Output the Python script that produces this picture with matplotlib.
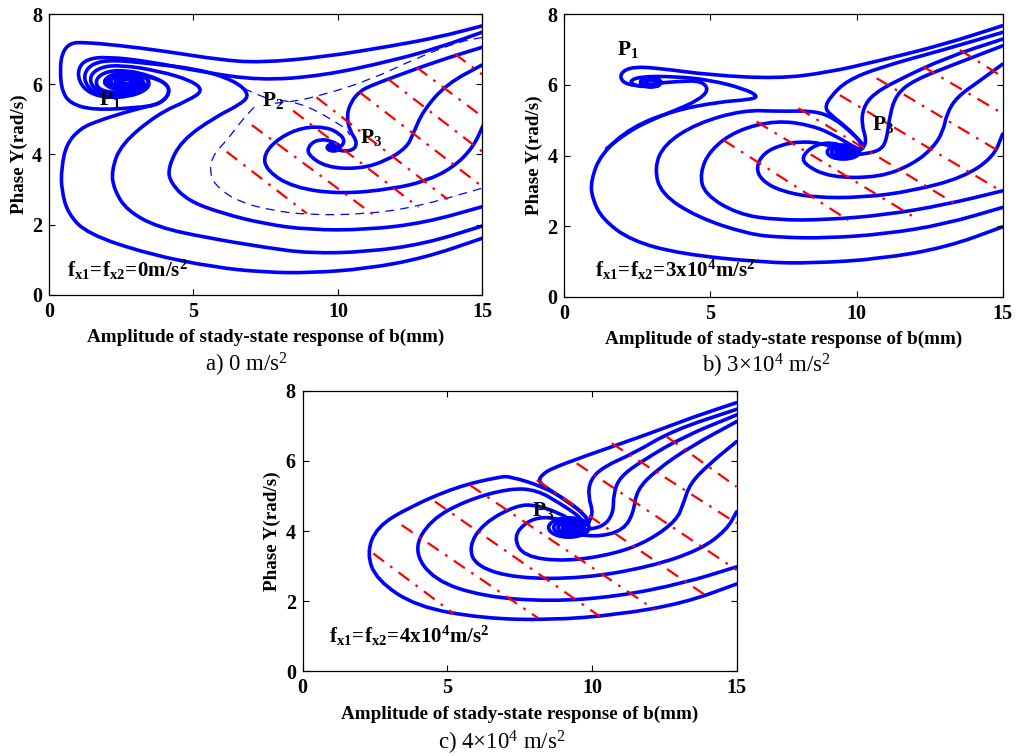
import numpy as np
import matplotlib
matplotlib.use("Agg")
import matplotlib.pyplot as plt
from matplotlib.path import Path
from matplotlib.patches import PathPatch, Ellipse

plt.rcParams["font.family"] = ["Liberation Serif", "DejaVu Serif"]
plt.rcParams["mathtext.fontset"] = "custom"
plt.rcParams["mathtext.rm"] = "Liberation Serif"
plt.rcParams["mathtext.bf"] = "Liberation Serif:bold"
plt.rcParams["mathtext.it"] = "Liberation Serif:italic"

# ---------------- panel a: 0 m/s^2 ----------------
a_top1 = [(15, 7.67), (13.5, 7.35), (11.9, 7.10), (9.5, 6.78), (7.3, 6.62), (5.92, 6.70), (4, 6.95),
          (2.34, 7.12), (1.2, 7.2), (0.73, 7.18), (0.45, 6.9), (0.38, 6.4), (0.45, 5.8), (0.75, 5.45),
          (1.53, 5.27), (3.0, 5.33), (3.84, 5.43), (4.19, 5.75), (4.07, 6.03), (3.49, 6.22), (2.8, 6.3),
          (2.1, 6.25), (1.85, 6.05), (2.2, 5.87), (2.9, 5.85), (3.3, 6.0), (3.0, 6.17), (2.5, 6.15),
          (2.4, 6.02), (2.7, 5.98)]
a_top2 = [(15, 7.49), (13.5, 7.05), (11.9, 6.68), (9.5, 6.25), (7.3, 6.11), (5.2, 6.37), (3.5, 6.65),
          (2.0, 6.79), (1.3, 6.72), (1.0, 6.45), (1.05, 6.05), (1.4, 5.75), (2.0, 5.62), (2.8, 5.65),
          (3.4, 5.85), (3.5, 6.1), (3.1, 6.3), (2.4, 6.35), (1.95, 6.15), (2.1, 5.92), (2.7, 5.9), (3.0, 6.05)]
a_low1 = [(15, 2.51), (13, 2.05), (11, 1.85), (9, 1.85), (7.46, 2.02), (6, 2.32), (4.81, 2.68), (4.2, 3.2),
          (4.12, 3.63), (4.58, 4.39), (5.73, 5.06), (6.65, 5.44), (6.95, 5.72), (6.42, 6.11), (5.16, 6.44),
          (3.43, 6.6), (2.2, 6.7), (1.5, 6.6), (1.2, 6.3), (1.3, 5.95), (1.7, 5.7), (2.5, 5.65), (3.2, 5.8),
          (3.35, 6.05), (2.95, 6.25), (2.3, 6.25), (2.05, 6.05), (2.4, 5.92), (2.85, 5.98)]
a_low2 = [(15, 1.96), (13, 1.45), (11, 1.22), (9, 1.18), (7.46, 1.35), (5.5, 1.62), (3.77, 1.92), (2.7, 2.4),
          (2.25, 3.0), (2.16, 3.54), (2.5, 4.30), (3.77, 5.16), (4.81, 5.54), (5.35, 5.82), (4.93, 6.11),
          (3.77, 6.39), (2.5, 6.55), (1.8, 6.5), (1.4, 6.25), (1.5, 5.9), (2.0, 5.72), (2.8, 5.75),
          (3.2, 5.95), (2.9, 6.18), (2.35, 6.17), (2.25, 6.0), (2.65, 5.95)]
a_low3 = [(15, 1.61), (13, 1.05), (11, 0.74), (9, 0.62), (7.46, 0.64), (5.73, 0.78), (3.43, 1.16),
          (1.35, 1.73), (0.66, 2.30), (0.43, 3.0), (0.43, 3.6), (0.6, 4.3), (1.1, 4.75), (1.70, 4.96),
          (2.62, 5.20), (3.3, 5.35), (3.84, 5.45), (4.19, 5.75), (4.07, 6.03), (3.49, 6.25), (2.7, 6.4),
          (2.0, 6.38), (1.6, 6.15), (1.7, 5.85), (2.3, 5.75), (3.0, 5.85), (3.1, 6.05)]
a_s = [(15, 7.06), (13.5, 6.68), (11.9, 6.2), (11.1, 5.95), (10.76, 5.8), (10.45, 5.5), (10.3, 5.1),
       (10.41, 4.68), (10.65, 4.39), (10.6, 4.16), (10.25, 4.08), (9.95, 4.15)]
a_r = [(15.05, 6.58), (13.76, 6.01), (12.95, 5.25), (12.6, 4.58), (12.38, 4.2), (11.68, 3.82), (10.76, 3.59),
       (9.61, 3.63), (8.92, 4.01), (9.03, 4.30), (9.38, 4.44), (9.8, 4.38), (10.05, 4.25)]
a_c = [(15.05, 4.87), (14.68, 4.2), (13.99, 3.63), (13.07, 3.25), (11.92, 3.02), (10.07, 2.87), (8.45, 3.06),
       (7.53, 3.54), (7.42, 4.01), (7.99, 4.49), (8.80, 4.78), (9.61, 4.78), (10.07, 4.59), (10.24, 4.39),
       (10.1, 4.2), (9.8, 4.12)]
# focus cores: (x centre, y centre, width, height)
a_cores = [(2.69, 6.08, 1.5, 0.5), (2.69, 6.08, 1.1, 0.36), (2.69, 6.08, 0.7, 0.24), (2.69, 6.08, 0.35, 0.12),
           (9.85, 4.2, 0.44, 0.2), (9.85, 4.2, 0.22, 0.1)]
# separatrices through the saddle P2 (thin dashed)
a_sep_upper = [(15, 7.34), (14.2, 7.22), (12.8, 6.78), (11.1, 6.12), (9.4, 5.68), (8.4, 5.5), (7.6, 5.45)]
a_sep_arc = [(7.1, 5.35), (6.7, 5.0), (6.19, 4.44), (5.61, 3.92), (5.58, 3.35), (5.96, 2.97), (6.6, 2.65),
             (7.6, 2.42), (9.0, 2.27), (11.0, 2.3), (12.7, 2.5), (15, 3.04)]
a_sep_p3 = [(8.0, 5.55), (8.6, 5.47), (9.26, 5.25), (9.84, 4.96), (10.3, 4.73), (10.41, 4.55)]
a_sep_p1 = [(7.5, 5.62), (7.0, 5.78), (6.5, 6.0)]
a_red = [((6.15, 4.08), (8.92, 2.32)), ((7.02, 4.84), (11.2, 2.3)), ((8.45, 5.25), (12.8, 2.49)),
         ((9.26, 5.63), (13.8, 2.72)), ((10.76, 5.77), (15, 3.08)), ((11.74, 6.15), (15, 4.08)),
         ((12.72, 6.49), (15, 5.08)), ((14.05, 6.87), (15, 6.28))]

# ---------------- panel b: 3x10^4 m/s^2 ----------------
b_top = [(15, 7.68), (13, 7.15), (10.8, 6.69), (9, 6.35), (7.3, 6.18), (5.0, 6.28), (3.27, 6.47), (2.36, 6.52),
         (1.92, 6.35), (1.96, 6.09), (2.4, 5.97), (3.1, 5.97), (3.35, 6.08), (3.05, 6.2), (2.6, 6.17),
         (2.65, 6.03), (3.05, 6.02)]
b_outer = [(15, 1.98), (13.08, 1.40), (10.8, 1.07), (8.5, 0.95), (6.84, 0.97), (3.99, 1.21), (2.28, 1.59),
           (1.3, 2.2), (0.95, 2.8), (0.91, 3.29), (1.25, 4.04), (2.28, 4.80), (3.76, 5.28), (5.3, 5.52),
           (6.3, 5.58), (6.67, 5.67), (6.13, 5.90), (4.98, 6.14), (3.8, 6.24), (2.6, 6.24), (2.2, 6.1),
           (2.5, 5.95), (3.2, 5.97)]
b_tip = [(3.2, 6.05), (3.9, 6.1), (4.68, 6.12), (4.96, 5.86), (4.55, 5.55), (3.76, 5.27), (2.9, 4.98),
         (2.2, 4.68), (1.45, 4.2)]
b_s1 = [(15, 7.49), (13, 7.0), (10.8, 6.50), (9.66, 6.12), (9.09, 5.65), (8.92, 5.36), (9.09, 5.17),
        (9.66, 4.80), (10.12, 4.42), (10.29, 4.23), (10.0, 4.1), (9.6, 4.1)]
b_s2 = [(15, 7.30), (13.08, 6.78), (11.37, 6.12), (10.57, 5.74), (10.23, 5.36), (10.17, 4.89), (10.35, 4.42),
        (10.2, 4.18), (9.7, 4.08)]
b_s3 = [(15, 7.11), (13.08, 6.50), (11.94, 6.12), (11.37, 5.74), (11.14, 5.17), (11.03, 4.42), (10.8, 4.14),
        (10.23, 4.04), (9.7, 4.0)]
b_r = [(15, 6.59), (14.22, 6.12), (13.42, 5.65), (13.08, 5.17), (12.97, 4.70), (12.63, 4.23), (11.94, 3.76),
       (10.80, 3.38), (9.09, 3.38), (8.18, 3.76), (8.18, 4.04), (8.63, 4.32), (9.2, 4.37), (9.55, 4.25)]
b_c = [(15, 4.61), (14.68, 3.95), (13.65, 3.38), (11.94, 3.0), (10.23, 2.81), (8.52, 2.81), (7.38, 3.0),
       (6.75, 3.3), (6.56, 3.66), (6.81, 4.06), (7.4, 4.3), (8.06, 4.4), (8.8, 4.35), (9.3, 4.2)]
b_d = [(15, 3.0), (13, 2.6), (11, 2.32), (9, 2.18), (7.3, 2.17), (5.93, 2.34), (4.79, 2.91), (4.64, 3.5),
       (4.98, 4.15), (5.9, 4.72), (7.27, 5.0), (8.5, 4.85), (9.3, 4.55), (9.9, 4.25)]
b_e = [(15, 2.53), (13, 2.05), (11, 1.78), (9, 1.66), (7.38, 1.68), (6.27, 1.78), (4.56, 2.25), (3.31, 2.91),
       (3.08, 3.66), (3.42, 4.32), (4.53, 4.91), (6.13, 5.29), (7.38, 5.25), (8.52, 5.27), (9.2, 5.08),
       (9.89, 4.61), (10.23, 4.28), (9.95, 4.1)]
b_cores = [(9.55, 4.1), (9.55, 4.1), (9.55, 4.1), (9.55, 4.1), (2.96, 6.07), (2.96, 6.07)]
b_core_sizes = [(1.1, 0.4), (0.8, 0.28), (0.5, 0.18), (0.24, 0.09), (0.7, 0.26), (0.35, 0.13)]
b_red = [((5.44, 4.44), (9.72, 2.17)), ((6.58, 4.96), (11.94, 2.27)), ((8.01, 5.34), (13.54, 2.55)),
         ((9.43, 5.71), (15, 2.97)), ((10.69, 6.19), (15, 4.06)), ((12.28, 6.52), (15, 5.19)),
         ((13.54, 6.99), (15, 6.23))]

# ---------------- panel c: 4x10^4 m/s^2 ----------------
c_s1 = [(15, 7.66), (13.5, 7.25), (12.0, 6.78), (9.7, 6.12), (8.6, 5.78), (8.3, 5.62), (8.15, 5.45),
        (8.3, 5.3), (8.55, 5.17), (9.24, 4.79), (9.70, 4.50), (9.93, 4.22), (9.6, 4.1)]
c_s2 = [(15, 7.47), (12.8, 6.87), (11.43, 6.21), (10.39, 5.83), (9.93, 5.45), (9.87, 4.98), (10.05, 4.50),
        (9.82, 4.15), (9.4, 4.1)]
c_s3 = [(15, 7.31), (13.16, 6.69), (11.77, 6.02), (10.97, 5.55), (10.74, 5.07), (10.74, 4.50), (10.39, 4.12),
        (9.7, 4.03)]
c_s4 = [(15, 7.12), (13.39, 6.4), (12.23, 5.74), (11.54, 5.17), (11.43, 4.50), (11.08, 4.03), (10.28, 3.84),
        (9.5, 3.9)]
c_r = [(15, 6.55), (14.08, 5.93), (13.39, 5.36), (13.16, 4.79), (12.93, 4.31), (12.0, 3.74), (10.85, 3.36),
       (9.12, 3.13), (7.63, 3.27), (7.28, 3.84), (7.74, 4.27), (8.32, 4.41), (9.01, 4.31)]
c_c6 = [(15, 4.55), (14.65, 4.03), (13.73, 3.46), (12.0, 2.98), (9.7, 2.65), (7.40, 2.65), (6.01, 2.98),
        (5.73, 3.55), (6.24, 4.22), (7.40, 4.74), (8.09, 4.74), (8.89, 4.50), (9.3, 4.3)]
c_c7 = [(15, 2.98), (13.16, 2.51), (10.85, 2.13), (8.55, 1.99), (6.24, 2.13), (4.52, 2.60), (3.82, 3.46),
        (4.40, 4.31), (5.67, 4.88), (7.17, 5.22), (8.09, 5.17), (8.89, 4.79), (9.58, 4.41), (9.7, 4.2)]
c_c8 = [(15, 2.49), (13.16, 1.94), (10.85, 1.61), (8.55, 1.46), (6.24, 1.51), (3.94, 1.84), (2.56, 2.60),
        (2.21, 3.36), (2.56, 4.12), (3.71, 4.69), (5.32, 5.26), (6.82, 5.55), (7.2, 5.55), (8.32, 5.26),
        (9.12, 4.88), (9.70, 4.50), (9.9, 4.25)]
c_cores = [(9.2, 4.1, 1.4, 0.55), (9.2, 4.1, 1.05, 0.42), (9.2, 4.1, 0.75, 0.3), (9.2, 4.1, 0.45, 0.18),
           (9.2, 4.1, 0.2, 0.08)]
c_red = [((2.44, 3.36), (5.21, 1.65)), ((3.42, 4.17), (8.15, 1.51)), ((4.57, 4.84), (10.28, 1.56)),
         ((5.78, 5.31), (12.18, 1.75)), ((8.09, 5.45), (13.9, 2.18)), ((9.47, 5.93), (15, 2.89)),
         ((10.68, 6.50), (15, 4.22)), ((12.58, 6.69), (15, 5.26))]

x_ticks = [0, 5, 10, 15]
y_ticks = [0, 2, 4, 6, 8]
xlabel = "Amplitude of stady-state response of b(mm)"
ylabel = "Phase \u03a5(rad/s)"

BLUE = "#0000ff"


def smooth(pts):
    # quadratic bezier through segment midpoints
    pts = np.asarray(pts, float)
    mids = (pts[:-1] + pts[1:]) / 2
    verts = [pts[0], mids[0]]
    codes = [Path.MOVETO, Path.LINETO]
    for i in range(1, len(pts) - 1):
        verts += [pts[i], mids[i]]
        codes += [Path.CURVE3, Path.CURVE3]
    verts.append(pts[-1])
    codes.append(Path.LINETO)
    return Path(verts, codes)


def draw_panel(ax, solid, dashed, red, cores, labels):
    for c in dashed:
        ax.add_patch(PathPatch(smooth(c), fill=False, edgecolor=BLUE, lw=0.9, ls=(0, (7, 5))))
    for (x0, y0), (x1, y1) in red:
        ax.plot([x0, x1], [y0, y1], color="red", lw=1.6, ls=(0, (6, 3.5, 1.2, 3.5)))
    for c in solid:
        ax.add_patch(PathPatch(smooth(c), fill=False, edgecolor=BLUE, lw=2.6,
                               capstyle="round", joinstyle="round"))
    for cx, cy, w, h in cores:
        ax.add_patch(Ellipse((cx, cy), w, h, fill=False, edgecolor=BLUE, lw=2.6))
    for x, y, s, fs in labels:
        ax.text(x, y, s, fontsize=fs, va="baseline", ha="left")
    ax.set_xlim(0, 15)
    ax.set_ylim(0, 8)
    ax.set_xticks(x_ticks)
    ax.set_yticks(y_ticks)
    ax.tick_params(direction="in", top=True, right=True, length=4, width=0.8, labelsize=14.5, pad=5)
    for t in ax.get_xticklabels() + ax.get_yticklabels():
        t.set_fontweight("bold")
    ax.set_xlabel(xlabel, fontsize=13.8, fontweight="bold", labelpad=5)
    ax.set_ylabel(ylabel, fontsize=13.8, fontweight="bold", labelpad=3)
    for sp in ax.spines.values():
        sp.set_linewidth(0.9)


fig = plt.figure(figsize=(10.23, 7.56), dpi=100)
ax_a = fig.add_axes([0.0479, 0.6102, 0.4236, 0.3709])
ax_b = fig.add_axes([0.5516, 0.6075, 0.4285, 0.3735])
ax_c = fig.add_axes([0.2959, 0.1120, 0.4242, 0.3712])

draw_panel(ax_a, [a_top1, a_top2, a_low1, a_low2, a_low3, a_s, a_r, a_c],
           [a_sep_upper, a_sep_arc, a_sep_p3, a_sep_p1], a_red, a_cores,
           [(1.74, 5.41, r"$\mathbf{P_1}$", 15.5), (7.36, 5.38, r"$\mathbf{P_2}$", 15.5),
            (10.76, 4.32, r"$\mathbf{P_3}$", 15.5),
            (0.61, 0.51, r"$\mathbf{f_{x1}\!=\!f_{x2}\!=\!0m/s^2}$", 15)])
draw_panel(ax_b, [b_top, b_outer, b_tip, b_s1, b_s2, b_s3, b_r, b_c, b_d, b_e],
           [], b_red, [(x, y, w, h) for (x, y), (w, h) in zip(b_cores, b_core_sizes)],
           [(1.79, 6.85, r"$\mathbf{P_1}$", 15.5), (10.52, 4.72, r"$\mathbf{P_3}$", 15.5),
            (1.05, 0.57, r"$\mathbf{f_{x1}\!=\!f_{x2}\!=\!3x10^4m/s^2}$", 15)])
draw_panel(ax_c, [c_s1, c_s2, c_s3, c_s4, c_r, c_c6, c_c7, c_c8], [], c_red, c_cores,
           [(7.92, 4.43, r"$\mathbf{P_3}$", 15.5),
            (0.92, 0.80, r"$\mathbf{f_{x1}\!=\!f_{x2}\!=\!4x10^4m/s^2}$", 15)])

fig.text(247 / 1023, 1 - 372 / 756, r"a) 0 m/s$^{\mathrm{2}}$", fontsize=16.5, ha="center", va="baseline")
fig.text(766 / 1023, 1 - 373 / 756, r"b) 3$\times$10$^{\mathrm{4}}$ m/s$^{\mathrm{2}}$", fontsize=16.5,
         ha="center", va="baseline")
fig.text(502 / 1023, 1 - 750 / 756, r"c) 4$\times$10$^{\mathrm{4}}$ m/s$^{\mathrm{2}}$", fontsize=16.5,
         ha="center", va="baseline")

fig.savefig("out.png", dpi=100)
